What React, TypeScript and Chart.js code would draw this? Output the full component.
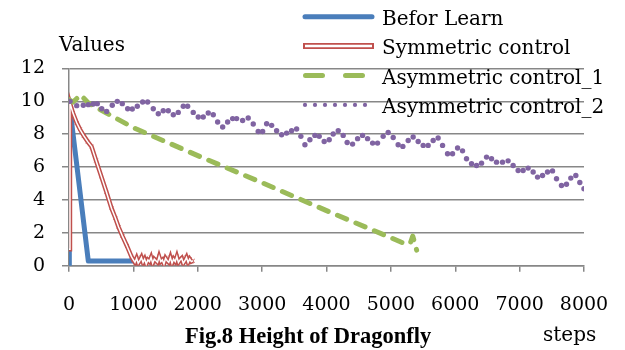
import React, { useEffect, useRef } from "react";
import { Chart, registerables } from "chart.js";

Chart.register(...registerables);

// ---- data ----
const seriesNames = ["Befor Learn", "Symmetric control", "Asymmetric control_1", "Asymmetric control_2"];
const xTickLabels = ["0", "1000", "2000", "3000", "4000", "5000", "6000", "7000", "8000"];
const yTickLabels = ["0", "2", "4", "6", "8", "10", "12"];

const stepsBefore = [0, 5, 300, 1050];
const valuesBefore = [0, 9.9, 0.28, 0.28];

const stepsSym = [0, 15, 60, 120, 170, 230, 290, 350, 420, 500, 580, 660, 720, 770, 830, 900, 970,
  1000, 1025, 1050, 1075, 1100, 1125, 1150, 1175, 1200, 1225, 1250, 1275, 1300, 1325, 1350, 1375, 1400, 1425, 1450,
  1475, 1500, 1525, 1550, 1575, 1600, 1625, 1650, 1675, 1700, 1725, 1750, 1775, 1800, 1825, 1850, 1875, 1900, 1925];
const valuesSym = [1.0, 9.9, 9.3, 8.7, 8.3, 7.9, 7.55, 7.25, 6.4, 5.45, 4.5, 3.5, 2.9, 2.35, 1.8, 1.2, 0.55,
  0.35, 0.2, 0.45, 0.15, 0.3, 0.5, 0.2, 0.4, 0.1, 0.35, 0.25, 0.5, 0.15, 0.4, 0.3, 0.2, 0.55, 0.25, 0.35,
  0.1, 0.45, 0.3, 0.2, 0.5, 0.15, 0.4, 0.25, 0.55, 0.2, 0.35, 0.45, 0.15, 0.3, 0.5, 0.2, 0.4, 0.25, 0.3];

const stepsAsym1 = [0, 60, 180, 300, 480, 1000, 2000, 3000, 4000, 5000, 5200, 5300, 5340, 5400];
const valuesAsym1 = [10.1, 9.95, 10.4, 9.9, 9.5, 8.4, 6.7, 5.05, 3.35, 1.7, 1.37, 1.35, 1.8, 0.95];

const stepsAsym2 = [16,120,222,300,377,439,508,585,672,750,828,911,983,1061,1144,1222,1309,1387,1464,1542,1620,1697,1775,1843,1930,2008,2085,2163,2241,2309,2387,2464,2542,2604,2697,2784,2862,2939,3008,3070,3148,3225,3303,3380,3458,3536,3602,3665,3742,3820,3887,3964,4042,4104,4182,4259,4321,4405,4483,4560,4638,4716,4793,4880,4958,5036,5113,5186,5269,5346,5424,5502,5579,5657,5734,5803,5880,5958,6036,6113,6175,6253,6331,6408,6486,6564,6641,6734,6821,6899,6977,7054,7132,7210,7278,7356,7433,7511,7573,7650,7728,7795,7873,7935,8000];
const valuesAsym2 = [10.0,9.74,9.76,9.8,9.84,9.86,9.55,9.39,9.76,10.0,9.86,9.55,9.54,9.7,9.96,9.96,9.55,9.25,9.43,9.43,9.19,9.33,9.7,9.7,9.33,9.05,9.05,9.29,9.19,8.74,8.44,8.74,8.95,8.95,8.84,8.99,8.62,8.17,8.17,8.64,8.54,8.21,7.97,8.07,8.21,8.32,7.87,7.36,7.66,7.93,7.87,7.56,7.66,8.01,8.21,7.93,7.5,7.4,7.73,7.93,7.73,7.46,7.46,7.87,8.11,7.8,7.36,7.26,7.62,7.83,7.56,7.32,7.32,7.62,7.77,7.32,6.81,6.81,7.16,6.99,6.51,6.2,6.1,6.24,6.61,6.51,6.3,6.3,6.38,6.1,5.79,5.79,5.94,5.7,5.39,5.49,5.7,5.77,5.29,4.88,4.96,5.33,5.49,5.06,4.68];

const yAxisTitle = "Values";
const xAxisTitle = "steps";
const figTitle = "Fig.8 Height of Dragonfly";

// ---- styles ----
const BLUE = "#4A7EBB";
const RED = "#C0504D";
const GREEN = "#9BBB59";
const PURPLE = "#8064A2";
const GRID = "#878787";
const SERIF = "'DejaVu Serif', serif";

const pts = (xs: number[], ys: number[]) => xs.map((x, i) => ({ x, y: ys[i] }));

const textPlugin = {
  id: "texts",
  afterDraw(chart: any) {
    const ctx = chart.ctx as CanvasRenderingContext2D;
    ctx.save();
    ctx.setLineDash([]);
    ctx.fillStyle = "#000";
    ctx.textBaseline = "alphabetic";
    ctx.textAlign = "left";
    ctx.font = `20px ${SERIF}`;
    ctx.fillText(yAxisTitle, 59, 51);
    ctx.fillText(xAxisTitle, 543, 341);
    ctx.font = `bold 22.5px 'Liberation Serif', serif`;
    ctx.fillText(figTitle, 185, 343);

    // legend
    const x0 = 304, x1 = 373, textX = 382;
    const rows = [16.7, 46.1, 75.5, 104.9];
    ctx.font = `20px ${SERIF}`;
    seriesNames.forEach((n, i) => {
      ctx.fillStyle = "#000";
      ctx.fillText(n, textX, rows[i] + 8.3);
    });
    ctx.lineCap = "round";
    ctx.lineWidth = 5;
    ctx.strokeStyle = BLUE;
    ctx.beginPath(); ctx.moveTo(x0 + 1, rows[0]); ctx.lineTo(x1 - 1, rows[0]); ctx.stroke();
    ctx.lineCap = "butt";
    ctx.lineWidth = 6;
    ctx.strokeStyle = RED;
    ctx.beginPath(); ctx.moveTo(x0 - 1, rows[1]); ctx.lineTo(x1 + 1, rows[1]); ctx.stroke();
    ctx.lineWidth = 2.5;
    ctx.strokeStyle = "#fff";
    ctx.beginPath(); ctx.moveTo(x0 + 1, rows[1]); ctx.lineTo(x1 - 1, rows[1]); ctx.stroke();
    ctx.lineCap = "round";
    ctx.lineWidth = 5;
    ctx.strokeStyle = GREEN;
    ctx.setLineDash([17, 23]);
    ctx.beginPath(); ctx.moveTo(x0 + 1.5, rows[2]); ctx.lineTo(x1, rows[2]); ctx.stroke();
    ctx.setLineDash([]);
    ctx.fillStyle = PURPLE;
    for (let k = 0; k < 7; k++) {
      ctx.beginPath(); ctx.arc(305 + k * 10, rows[3], 2.1, 0, Math.PI * 2); ctx.fill();
    }
    ctx.restore();
  },
};

export default function App() {
  const ref = useRef<HTMLCanvasElement>(null);
  useEffect(() => {
    if (!ref.current) return;
    const tickFont = { family: SERIF, size: 19 };
    const chart = new Chart(ref.current, {
      type: "line",
      data: {
        datasets: [
          { label: seriesNames[3], data: pts(stepsAsym2, valuesAsym2), showLine: false, pointRadius: 2.7, pointBackgroundColor: PURPLE, pointBorderWidth: 0, borderColor: PURPLE },
          { label: seriesNames[2], data: pts(stepsAsym1, valuesAsym1), borderColor: GREEN, borderWidth: 5, borderDash: [10, 10], borderCapStyle: "round", borderJoinStyle: "round", pointRadius: 0, tension: 0 },
          { label: "sym-inner", data: pts(stepsSym, valuesSym), borderColor: "#ffffff", borderWidth: 1.5, pointRadius: 0, tension: 0 },
          { label: seriesNames[1], data: pts(stepsSym, valuesSym), borderColor: RED, borderWidth: 4.5, pointStyle: "crossRot", pointRadius: 2.5, pointBorderColor: RED, pointBorderWidth: 1, tension: 0 },
          { label: seriesNames[0], data: pts(stepsBefore, valuesBefore), borderColor: BLUE, borderWidth: 5, borderJoinStyle: "round", pointRadius: 0, tension: 0 },
        ],
      },
      options: {
        animation: false,
        responsive: false,
        layout: { padding: { top: 68.5, right: 41, left: 0, bottom: 0 } },
        plugins: { legend: { display: false }, tooltip: { enabled: false } },
        scales: {
          x: {
            type: "linear", min: 0, max: 8000,
            afterBuildTicks: (s: any) => { s.ticks = xTickLabels.map((t) => ({ value: Number(t) })); },
            ticks: { font: tickFont, color: "#000", padding: 22, maxRotation: 0, autoSkip: false, callback: (v: any) => String(v) },
            grid: { drawOnChartArea: false, drawTicks: true, tickLength: 6, color: GRID, lineWidth: 1.5 },
            border: { color: GRID, width: 1.5 },
            afterFit: (s: any) => { s.height = 84.3; s.paddingLeft = 0; s.paddingRight = 0; },
          },
          y: {
            min: 0, max: 12,
            afterBuildTicks: (s: any) => { s.ticks = yTickLabels.map((t) => ({ value: Number(t) })); },
            ticks: { font: tickFont, color: "#000", padding: 17, callback: (v: any) => String(v) },
            grid: { color: GRID, lineWidth: 1.5, tickLength: 7 },
            border: { color: GRID, width: 1.5 },
            afterFit: (s: any) => { s.width = 69; s.paddingTop = 0; s.paddingBottom = 0; },
          },
        },
      },
      plugins: [textPlugin],
    });
    return () => chart.destroy();
  }, []);
  return (
    <div style={{ position: "absolute", left: 0, top: 0, width: 625, height: 350, background: "#fff" }}>
      <canvas ref={ref} width={625} height={350} style={{ display: "block" }} />
    </div>
  );
}
